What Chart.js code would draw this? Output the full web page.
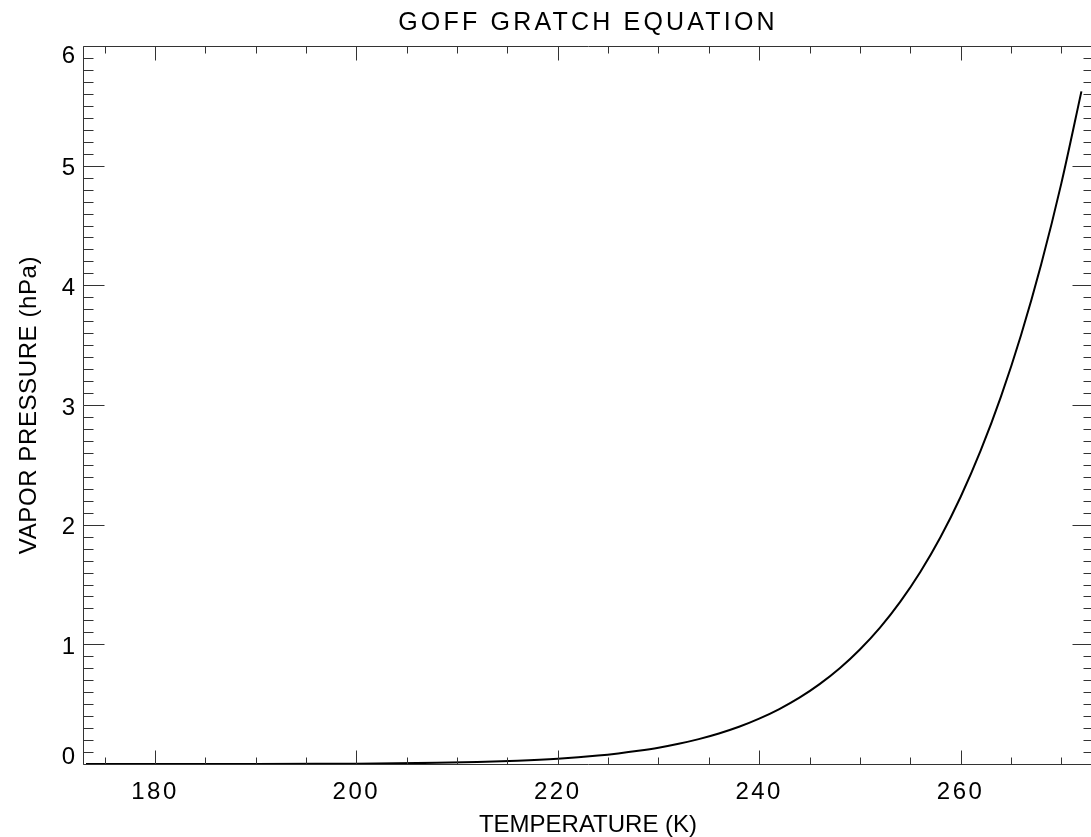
<!DOCTYPE html>
<html><head><meta charset="utf-8">
<script src="https://cdn.jsdelivr.net/npm/chart.js@4.4.1/dist/chart.umd.min.js"></script>
<style>
html,body{margin:0;padding:0;background:#fff;overflow:hidden;width:1091px;height:837px}
#wrap{position:absolute;left:0;top:0;width:1100px;height:837px}
</style>
</head><body><div id="wrap"><canvas id="c" width="1100" height="837"></canvas></div>
<script>
const chartTitle = 'GOFF GRATCH EQUATION';
const xTitle = 'TEMPERATURE (K)';
const yTitle = 'VAPOR PRESSURE (hPa)';
const temperatures = [173.15, 180, 190, 196, 200, 204, 208, 212, 216, 220, 224, 226, 228, 230, 232, 234, 236, 238, 240, 242, 244, 246, 248, 250, 252, 254, 256, 258, 260, 262, 264, 266, 268, 270, 272];
const pressures    = [0.0000, 0.0002, 0.0009, 0.0019, 0.0031, 0.0056, 0.0097, 0.0164, 0.0272, 0.0442, 0.0703, 0.0882, 0.110, 0.136, 0.169, 0.208, 0.255, 0.311, 0.379, 0.459, 0.554, 0.667, 0.800, 0.957, 1.140, 1.355, 1.605, 1.895, 2.231, 2.620, 3.068, 3.583, 4.174, 4.850, 5.621];
const xTickLabels = [180, 200, 220, 240, 260];
const yTickLabels = [0, 1, 2, 3, 4, 5, 6];

const FONT = "'Liberation Sans', Arial, sans-serif";
const AXIS_COLOR = '#333';

function withSpacing(obj, method, spacing, after) {
  if (!obj || obj['__wrapped_' + method]) return;
  const orig = obj[method];
  obj[method] = function (...args) {
    if (after) after.apply(this, args);
    const ctx = this.ctx;
    const prev = ctx.letterSpacing;
    ctx.letterSpacing = spacing;
    const r = orig.apply(this, args);
    ctx.letterSpacing = prev || '0px';
    return r;
  };
  obj['__wrapped_' + method] = true;
}

const textPlugin = {
  id: 'textStyle',
  beforeDraw(chart) {
    withSpacing(chart.titleBlock, 'draw', '3.2px');
    withSpacing(chart.scales.x, 'drawLabels', '2.5px');
    withSpacing(chart.scales.x, 'drawTitle', '0px');
    withSpacing(chart.scales.y, 'drawTitle', '0.6px');
    withSpacing(chart.scales.y, 'drawLabels', '0px', function (ca) {
      const items = this.getLabelItems(ca);
      if (items.__adj) return;
      items.forEach(it => {
        if (it.label === '0') it.options.translation[1] -= 10;
        if (it.label === '6') it.options.translation[1] += 7;
      });
      items.__adj = true;
    });
  }
};

const framePlugin = {
  id: 'frame',
  afterDraw(chart) {
    const {ctx, chartArea: a, scales: {x, y}} = chart;
    const L = Math.round(a.left) + 0.5, R = Math.round(a.right) + 0.5;
    const T = Math.round(a.top) + 0.5, B = Math.round(a.bottom) + 0.5;
    ctx.save();
    ctx.strokeStyle = AXIS_COLOR;
    ctx.lineWidth = 1;
    ctx.beginPath();
    ctx.rect(L, T, R - L, B - T);
    x.ticks.forEach(t => {
      const px = Math.round(x.getPixelForValue(t.value)) + 0.5;
      const len = xTickLabels.includes(t.value) ? 14 : 7;
      ctx.moveTo(px, B); ctx.lineTo(px, B - len);
      ctx.moveTo(px, T); ctx.lineTo(px, T + len);
    });
    y.ticks.forEach(t => {
      const py = Math.round(y.getPixelForValue(t.value)) + 0.5;
      const r = Math.round(t.value);
      const len = (Math.abs(t.value - r) < 1e-6 && yTickLabels.includes(r)) ? 21 : 10;
      ctx.moveTo(L, py); ctx.lineTo(L + len, py);
      ctx.moveTo(R, py); ctx.lineTo(R - len, py);
    });
    ctx.stroke();
    ctx.restore();
  }
};

new Chart(document.getElementById('c'), {
  type: 'line',
  data: {
    datasets: [{
      data: temperatures.map((t, i) => ({x: t, y: pressures[i]})),
      borderColor: '#000',
      borderWidth: 2,
      pointRadius: 0,
      cubicInterpolationMode: 'monotone',
      fill: false
    }]
  },
  options: {
    responsive: false,
    animation: false,
    devicePixelRatio: 1,
    layout: {padding: {left: 0, right: 7, top: 0, bottom: 0}},
    plugins: {
      legend: {display: false},
      tooltip: {enabled: false},
      title: {
        display: true, text: chartTitle, fullSize: false, color: '#000',
        font: {family: FONT, size: 25, weight: 'normal', lineHeight: 1},
        padding: {top: 11, bottom: 10}
      }
    },
    scales: {
      x: {
        type: 'linear', min: 172.85, max: 273.15,
        afterFit(s) { s.height = 73; },
        border: {display: false},
        grid: {display: false, drawTicks: false},
        ticks: {
          stepSize: 5, includeBounds: false, autoSkip: false, maxRotation: 0, minRotation: 0,
          color: '#000', padding: 14,
          font: {family: FONT, size: 24},
          callback: v => xTickLabels.includes(v) ? String(v) : ''
        },
        title: {
          display: true, text: xTitle, color: '#000',
          font: {family: FONT, size: 24, lineHeight: 1},
          padding: {top: 0, bottom: 0}
        }
      },
      y: {
        type: 'linear', min: 0, max: 6,
        afterFit(s) { s.width = 83; },
        border: {display: false},
        grid: {display: false, drawTicks: false},
        ticks: {
          stepSize: 0.1, autoSkip: false, color: '#000', padding: 8, labelOffset: 3,
          font: {family: FONT, size: 24},
          callback: v => {
            const r = Math.round(v);
            return (Math.abs(v - r) < 1e-6 && yTickLabels.includes(r)) ? String(r) : '';
          }
        },
        title: {
          display: true, text: yTitle, color: '#000',
          font: {family: FONT, size: 24, lineHeight: 1},
          padding: {top: 17, bottom: 0}
        }
      }
    }
  },
  plugins: [textPlugin, framePlugin]
});
</script>
</body></html>
